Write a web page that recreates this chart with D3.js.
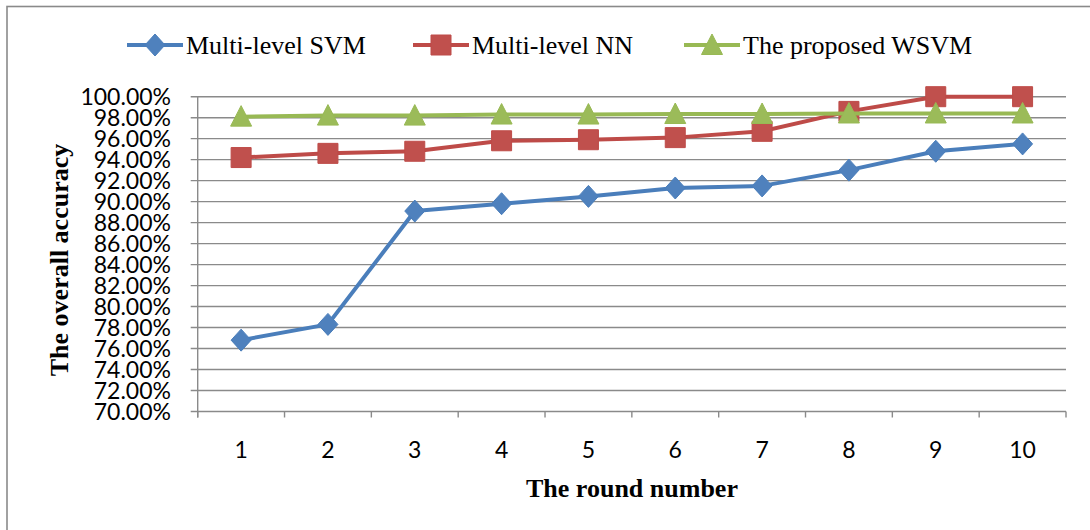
<!DOCTYPE html>
<html>
<head>
<meta charset="utf-8">
<script src="https://cdn.jsdelivr.net/npm/d3@7"></script>
<style>
  html, body { margin: 0; padding: 0; background: #fff; }
  svg { display: block; }
</style>
</head>
<body>
<svg id="chart" width="1090" height="530"></svg>
<script>
// ---- data ----
const rounds = ["1", "2", "3", "4", "5", "6", "7", "8", "9", "10"];
const svmValues  = [76.8, 78.3, 89.1, 89.8, 90.5, 91.3, 91.5, 93.0, 94.8, 95.5];
const nnValues   = [94.2, 94.6, 94.8, 95.8, 95.9, 96.1, 96.7, 98.6, 100.0, 100.0];
const wsvmValues = [98.1, 98.2, 98.2, 98.3, 98.3, 98.35, 98.35, 98.4, 98.4, 98.4];
const seriesNames = ["Multi-level SVM", "Multi-level NN", "The proposed WSVM"];
const yTicks = [70, 72, 74, 76, 78, 80, 82, 84, 86, 88, 90, 92, 94, 96, 98, 100];
const xTitle = "The round number";
const yTitle = "The overall accuracy";

// ---- styles ----
const series = [
  { name: seriesNames[0], values: svmValues,  line: "#4A7EBB", fill: "#4F81BD", marker: "diamond" },
  { name: seriesNames[1], values: nnValues,   line: "#BE4B48", fill: "#C0504D", marker: "square" },
  { name: seriesNames[2], values: wsvmValues, line: "#98B954", fill: "#9BBB59", marker: "triangle" }
];
const gridColor = "#8a8a8a";
const tickFont = "Lato, 'Noto Sans', sans-serif";
const serifFont = "'Liberation Serif', 'DejaVu Serif', serif";

const svg = d3.select("#chart");

// outer chart border (only left/top visible in the reference)
svg.append("rect")
  .attr("x", 7).attr("y", 6.5).attr("width", 1200).attr("height", 700)
  .attr("fill", "none").attr("stroke", "#8a8a8a").attr("stroke-width", 1.6);

const plot = { left: 197.7, right: 1066, top: 96.7, bottom: 411.5 };

const x = d3.scaleBand().domain(rounds).range([plot.left, plot.right]).paddingInner(0).paddingOuter(0);
const y = d3.scaleLinear().domain([70, 100]).range([plot.bottom, plot.top]);
const cx = d => x(d) + x.bandwidth() / 2;

// gridlines
svg.append("g").selectAll("line").data(yTicks).join("line")
  .attr("x1", plot.left - 7).attr("x2", plot.right)
  .attr("y1", d => y(d)).attr("y2", d => y(d))
  .attr("stroke", gridColor).attr("stroke-width", 1.4);

// y axis line
svg.append("line")
  .attr("x1", plot.left).attr("x2", plot.left)
  .attr("y1", plot.top).attr("y2", plot.bottom + 6)
  .attr("stroke", gridColor).attr("stroke-width", 1.4);

// x tick marks at band boundaries
const bounds = rounds.map(r => x(r)).concat([plot.right]);
svg.append("g").selectAll("line").data(bounds).join("line")
  .attr("x1", d => d).attr("x2", d => d)
  .attr("y1", plot.bottom).attr("y2", plot.bottom + 6)
  .attr("stroke", gridColor).attr("stroke-width", 1.4);

// y tick labels
svg.append("g").selectAll("text").data(yTicks).join("text")
  .attr("x", 171).attr("y", d => y(d) + 8)
  .attr("text-anchor", "end")
  .attr("font-family", tickFont).attr("font-size", 23)
  .attr("fill", "#000")
  .text(d => d.toFixed(2) + "%");

// x tick labels
svg.append("g").selectAll("text").data(rounds).join("text")
  .attr("x", d => cx(d)).attr("y", 458)
  .attr("text-anchor", "middle")
  .attr("font-family", tickFont).attr("font-size", 23)
  .attr("fill", "#000")
  .text(d => d);

// axis titles
svg.append("text")
  .attr("x", 632).attr("y", 497)
  .attr("text-anchor", "middle")
  .attr("font-family", serifFont).attr("font-weight", "bold").attr("font-size", 26)
  .text(xTitle);

svg.append("text")
  .attr("transform", "translate(68,260) rotate(-90)")
  .attr("text-anchor", "middle")
  .attr("font-family", serifFont).attr("font-weight", "bold").attr("font-size", 26)
  .text(yTitle);

// marker path generator
function markerPath(type) {
  if (type === "diamond") return "M0,-11L10,0L0,11L-10,0Z";
  if (type === "square") return "M-10,-10H10V10H-10Z";
  return "M0,-11L10.5,9.5L-10.5,9.5Z";
}

const lineGen = d3.line().x((d, i) => cx(rounds[i])).y(d => y(d));

series.forEach(s => {
  const g = svg.append("g");
  g.append("path")
    .attr("d", lineGen(s.values))
    .attr("fill", "none").attr("stroke", s.line).attr("stroke-width", 4)
    .attr("stroke-linejoin", "round");
  g.selectAll("path.m").data(s.values).join("path")
    .attr("class", "m")
    .attr("transform", (d, i) => `translate(${cx(rounds[i])},${y(d)})`)
    .attr("d", markerPath(s.marker))
    .attr("fill", s.fill).attr("stroke", s.line).attr("stroke-width", 1);
});

// legend
const legendItems = [
  { x0: 127, tx: 186 },
  { x0: 413, tx: 472 },
  { x0: 684, tx: 743 }
];
const ly = 45;
series.forEach((s, i) => {
  const li = legendItems[i];
  const g = svg.append("g");
  g.append("line")
    .attr("x1", li.x0).attr("x2", li.x0 + 56)
    .attr("y1", ly).attr("y2", ly)
    .attr("stroke", s.line).attr("stroke-width", 4);
  g.append("path")
    .attr("transform", `translate(${li.x0 + 28},${ly})`)
    .attr("d", markerPath(s.marker))
    .attr("fill", s.fill).attr("stroke", s.line).attr("stroke-width", 1);
  g.append("text")
    .attr("x", li.tx).attr("y", ly + 9)
    .attr("font-family", serifFont).attr("font-size", 26)
    .attr("fill", "#000")
    .text(s.name);
});
</script>
</body>
</html>
